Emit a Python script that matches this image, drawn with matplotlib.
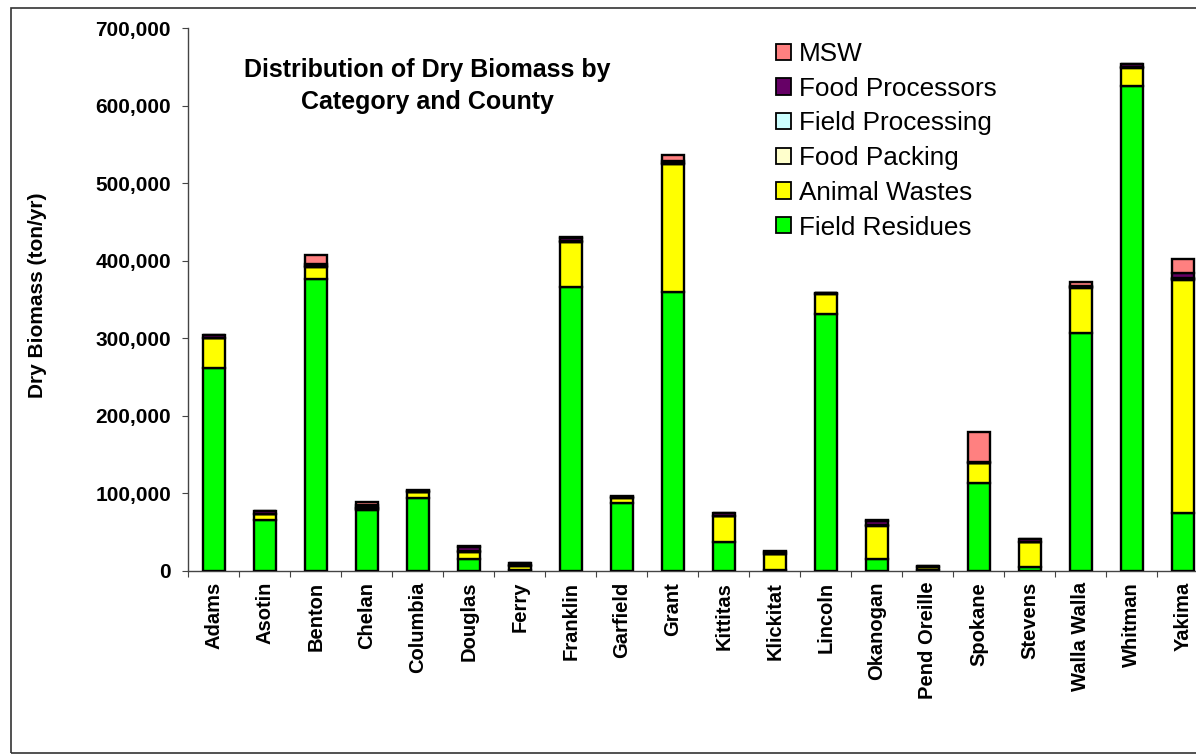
import matplotlib
matplotlib.use("Agg")
import matplotlib.pyplot as plt
import numpy as np
from matplotlib.patches import Rectangle, Patch
from matplotlib.ticker import FuncFormatter, FixedLocator

plt.rcParams['font.family'] = ['Liberation Sans', 'DejaVu Sans']

counties = ["Adams", "Asotin", "Benton", "Chelan", "Columbia", "Douglas", "Ferry",
            "Franklin", "Garfield", "Grant", "Kittitas", "Klickitat", "Lincoln",
            "Okanogan", "Pend Oreille", "Spokane", "Stevens", "Walla Walla",
            "Whitman", "Yakima"]

# dry biomass, ton/yr
field_residues = [262000, 66000, 376000, 79000, 94500, 14700, 300, 366000, 87000, 360000,
                  37400, 500, 332000, 14700, 500, 113000, 4400, 306500, 626000, 74000]
animal_wastes = [38000, 7000, 16000, 1000, 6500, 9000, 6000, 58000, 7000, 165000,
                 33000, 20500, 25500, 43400, 4000, 26000, 32500, 59000, 23500, 301000]
food_packing = [300, 300, 300, 1500, 300, 1000, 300, 300, 300, 300,
                300, 300, 300, 1000, 300, 300, 300, 300, 300, 1500]
field_processing = [300, 300, 1000, 300, 300, 300, 300, 1000, 300, 1000,
                    300, 300, 300, 300, 300, 300, 300, 300, 300, 1500]
food_processors = [3500, 3500, 3000, 2500, 1500, 6000, 2500, 4000, 1000, 3000,
                   3500, 3000, 500, 5000, 700, 1000, 3500, 1000, 3500, 6000]
msw = [500, 500, 11000, 5000, 500, 500, 300, 2000, 500, 7500,
       500, 300, 500, 500, 200, 39000, 500, 5000, 500, 19000]

series = [
    ("Field Residues", field_residues, "#00FF00"),
    ("Animal Wastes", animal_wastes, "#FFFF00"),
    ("Food Packing", food_packing, "#FFFFCC"),
    ("Field Processing", field_processing, "#CCFFFF"),
    ("Food Processors", food_processors, "#660066"),
    ("MSW", msw, "#FF8080"),
]

W, H = 1196, 755
fig = plt.figure(figsize=(W / 100, H / 100), dpi=100)
fig.patch.set_facecolor("white")

# outer chart border
fig.patches.append(Rectangle((11 / W, 1 - 753 / H), 1200 / W, 745 / H,
                             transform=fig.transFigure, fill=False,
                             edgecolor="#333333", linewidth=1.2))

ax = fig.add_axes([188.3 / W, 1 - 570.7 / H, 1020 / W, (570.7 - 28.5) / H])

x = np.arange(len(counties))
bottom = np.zeros(len(counties))
handles = []
for name, vals, color in series:
    vals = np.array(vals, dtype=float)
    ax.bar(x, vals, width=0.44, bottom=bottom, color=color,
           edgecolor="black", linewidth=1.7, zorder=3)
    bottom += vals
    handles.append(Patch(facecolor=color, edgecolor="black", linewidth=1.3, label=name))

ax.set_xlim(-0.5, len(counties) - 0.5)
ax.set_ylim(0, 700000)

for side in ("top", "right"):
    ax.spines[side].set_visible(False)
for side in ("left", "bottom"):
    ax.spines[side].set_color("#444444")
    ax.spines[side].set_linewidth(1.0)

ax.yaxis.set_major_locator(FixedLocator(np.arange(0, 700001, 100000)))
ax.yaxis.set_major_formatter(FuncFormatter(lambda v, p: f"{int(v):,}"))
ax.tick_params(axis="y", direction="out", length=4.5, width=0.8, color="#444444",
               pad=8, labelsize=15)
for lbl in ax.get_yticklabels():
    lbl.set_fontweight("bold")

ax.set_xticks(x)
ax.set_xticklabels(counties, rotation=90, fontsize=14.5, fontweight="bold")
ax.set_xticks(np.arange(-0.5, len(counties), 1.0), minor=True)
ax.tick_params(axis="x", which="major", length=0, pad=8)
ax.tick_params(axis="x", which="minor", direction="out", length=4.5, width=0.8,
               color="#444444")

fig.text(38 / W, 1 - 295 / H, "Dry Biomass (ton/yr)", rotation=90, ha="center",
         va="center", fontsize=15, fontweight="bold")

fig.text(427 / W, 1 - 70 / H, "Distribution of Dry Biomass by", ha="center",
         va="center", fontsize=18, fontweight="bold")
fig.text(427 / W, 1 - 102 / H, "Category and County", ha="center",
         va="center", fontsize=18, fontweight="bold")

fig.legend(handles=handles[::-1], loc="upper left",
           bbox_to_anchor=(776 / W, 1 - 42 / H), frameon=False,
           fontsize=18.8, handlelength=0.58, handleheight=0.58,
           handletextpad=0.3, labelspacing=0.41, borderpad=0, borderaxespad=0)

fig.savefig("out.png", dpi=100)
